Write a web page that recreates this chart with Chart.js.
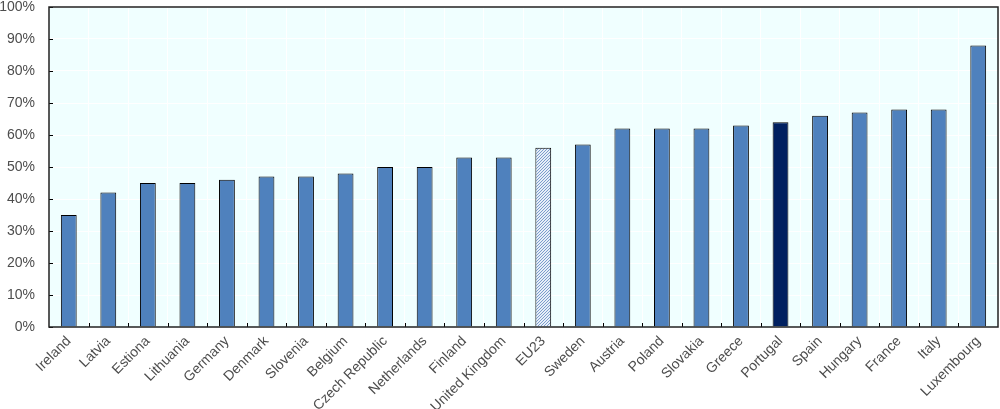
<!DOCTYPE html>
<html>
<head>
<meta charset="utf-8">
<script src="https://cdn.jsdelivr.net/npm/chart.js@4.4.1/dist/chart.umd.min.js"></script>
<style>
html,body{margin:0;padding:0;background:#fff;}
#wrap{width:1000px;height:409px;position:relative;}
</style>
</head>
<body>
<div id="wrap"><canvas id="c" width="1000" height="409"></canvas></div>
<script>
const categories = ["Ireland","Latvia","Estiona","Lithuania","Germany","Denmark","Slovenia","Belgium","Czech Republic","Netherlands","Finland","United Kingdom","EU23","Sweden","Austria","Poland","Slovakia","Greece","Portugal","Spain","Hungary","France","Italy","Luxembourg"];
const values = [35,42,45,45,46,47,47,48,50,50,53,53,56,57,62,62,62,63,64,66,67,68,68,88];
const yTicks = [0,10,20,30,40,50,60,70,80,90,100];
const highlightAvg = "EU23";
const highlightCountry = "Portugal";

function hatch(){
  const p = document.createElement('canvas');
  p.width = 3; p.height = 3;
  const g = p.getContext('2d');
  g.fillStyle = '#e6eef8';
  g.fillRect(0,0,3,3);
  g.fillStyle = '#7b9ccc';
  g.fillRect(2,0,1,1);
  g.fillRect(1,1,1,1);
  g.fillRect(0,2,1,1);
  return document.getElementById('c').getContext('2d').createPattern(p,'repeat');
}
const pat = hatch();
const colors = categories.map(c => c===highlightAvg ? pat : (c===highlightCountry ? '#002060' : '#4f81bd'));

const frame = {
  id:'frame',
  beforeDraw(chart){
    const {ctx, chartArea:a} = chart;
    ctx.save();
    ctx.fillStyle = '#f0ffff';
    ctx.fillRect(a.left, a.top, a.right-a.left, a.bottom-a.top);
    ctx.restore();
  },
  afterDatasetsDraw(chart){
    const {ctx, chartArea:a, scales} = chart;
    ctx.save();
    ctx.strokeStyle = '#000';
    ctx.lineWidth = 1;
    yTicks.forEach(v=>{
      const y = Math.round(scales.y.getPixelForValue(v))+0.5;
      ctx.beginPath(); ctx.moveTo(a.left, y); ctx.lineTo(a.left+4, y); ctx.stroke();
    });
    const n = categories.length;
    for(let i=1;i<n;i++){
      const x = Math.round((scales.x.getPixelForValue(i-1)+scales.x.getPixelForValue(i))/2)+0.5;
      ctx.beginPath(); ctx.moveTo(x, a.bottom); ctx.lineTo(x, a.bottom-4); ctx.stroke();
    }
    ctx.lineWidth = 1.5;
    ctx.strokeStyle = '#222';
    ctx.strokeRect(a.left, a.top, a.right-a.left, a.bottom-a.top);
    ctx.restore();
  }
};

new Chart(document.getElementById('c'), {
  type:'bar',
  data:{
    labels:categories,
    datasets:[{
      data:values,
      backgroundColor:colors,
      borderColor:'#000',
      borderWidth:1,
      barPercentage:0.4,
      categoryPercentage:1
    }]
  },
  options:{
    responsive:false,
    animation:false,
    layout:{padding:{top:7,right:2,left:0,bottom:0}},
    plugins:{legend:{display:false},tooltip:{enabled:false}},
    scales:{
      x:{
        offset:true,
        grid:{display:true,color:'#ffffff',lineWidth:1,offset:true,drawTicks:false},
        border:{display:false},
        ticks:{color:'#4d4d4d',font:{family:'Liberation Sans, Arial',size:14},maxRotation:45,minRotation:45,autoSkip:false,padding:6},
        afterFit(s){s.height=82; s.paddingLeft=0; s.paddingRight=0;}
      },
      y:{
        min:0,max:100,
        afterBuildTicks(s){s.ticks = yTicks.map(v=>({value:v}));},
        grid:{color:'#ffffff',lineWidth:1,drawTicks:false},
        border:{display:false},
        ticks:{color:'#4d4d4d',font:{family:'Liberation Sans, Arial',size:14},padding:14,callback:v=>v+'%'},
        afterFit(s){s.width=49; s.paddingTop=0; s.paddingBottom=0;}
      }
    }
  },
  plugins:[frame]
});
</script>
</body>
</html>
